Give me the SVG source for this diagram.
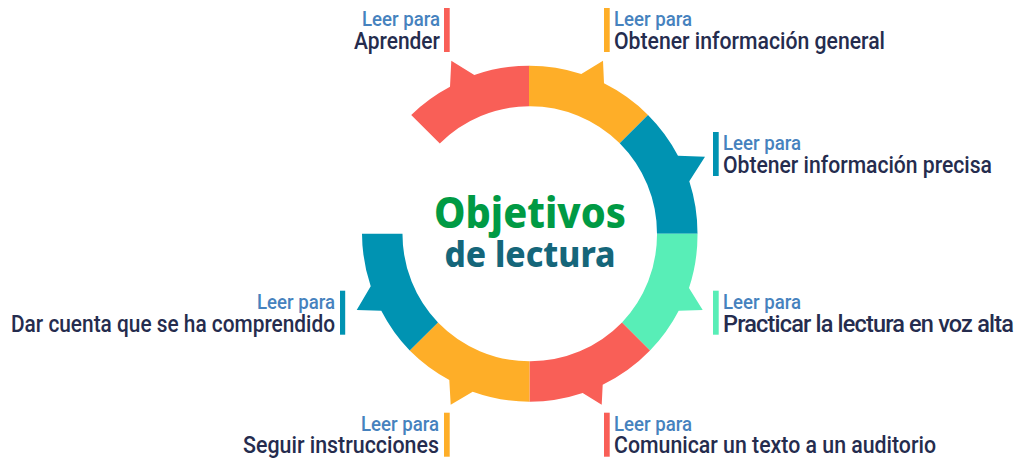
<svg xmlns="http://www.w3.org/2000/svg" width="1024" height="469" viewBox="0 0 1024 469">
<style>
.l{font-family:"Roboto","Liberation Sans",sans-serif;font-size:21px;font-weight:500;fill:#4682be}
.d{font-family:"Roboto","Liberation Sans",sans-serif;font-size:23px;font-weight:500;fill:#252c4e}
.e{text-anchor:end}
.red{fill:#f95f57}.ora{fill:#feae28}.tea{fill:#0093b2}.gre{fill:#58eeb7}
.t{font-family:"Noto Sans",sans-serif;font-weight:800;text-anchor:middle}
</style>
<rect width="1024" height="469" fill="#fff"/>
<g id="node-aprender">
<path class="red" d="M411.2 114.9A168 168 0 0 1 450 86.7L451.3 60.7L474.3 75A168 168 0 0 1 529.2 65.7V106.2A127.5 127.5 0 0 0 439.8 143.5Z"/>
<rect class="red" x="444" y="8" width="5.7" height="44"/>
<text class="l e" x="440" y="26" textLength="78" lengthAdjust="spacingAndGlyphs">Leer para</text>
<text class="d e" x="440" y="49" textLength="86" lengthAdjust="spacingAndGlyphs">Aprender</text>
</g>
<g id="node-general">
<path class="ora" d="M529 65.7A168 168 0 0 1 581.3 73.9L603 60.7L604 83.3A168 168 0 0 1 648 114.9L619.7 143.2A127.5 127.5 0 0 0 529 106.2Z"/>
<rect class="ora" x="604" y="8" width="5.7" height="44"/>
<text class="l" x="614" y="26" textLength="78" lengthAdjust="spacingAndGlyphs">Leer para</text>
<text class="d" x="614" y="49" textLength="271" lengthAdjust="spacingAndGlyphs">Obtener información general</text>
</g>
<g id="node-precisa">
<path class="tea" d="M648 114.9A168 168 0 0 1 678 155.7L705 156.7L689.3 181.3A168 168 0 0 1 697.5 233.7H657A127.5 127.5 0 0 0 619.7 143.2Z"/>
<rect class="tea" x="713" y="132" width="5.7" height="44"/>
<text class="l" x="723" y="150" textLength="78" lengthAdjust="spacingAndGlyphs">Leer para</text>
<text class="d" x="723" y="173" textLength="269" lengthAdjust="spacingAndGlyphs">Obtener información precisa</text>
</g>
<g id="node-voz-alta">
<path class="gre" d="M697.5 233.7A168 168 0 0 1 689 288L702.7 310L678.7 310.7A168 168 0 0 1 650 350.5L622 322.5A127.5 127.5 0 0 0 657 233.7Z"/>
<rect class="gre" x="713" y="290.7" width="5.7" height="44"/>
<text class="l" x="723" y="309" textLength="78" lengthAdjust="spacingAndGlyphs">Leer para</text>
<text class="d" x="723" y="332" letter-spacing="-0.8" textLength="290" lengthAdjust="spacingAndGlyphs">Practicar la lectura en voz alta</text>
</g>
<g id="node-auditorio">
<path class="red" d="M650 350.5A168 168 0 0 1 602.7 384.7L601.7 404.7L582.7 393A168 168 0 0 1 529.5 401.7V361.2A127.5 127.5 0 0 0 622 322.5Z"/>
<rect class="red" x="604" y="412.7" width="5.7" height="44"/>
<text class="l" x="614" y="431" textLength="78" lengthAdjust="spacingAndGlyphs">Leer para</text>
<text class="d" x="614" y="453" textLength="322" lengthAdjust="spacingAndGlyphs">Comunicar un texto a un auditorio</text>
</g>
<g id="node-instrucciones">
<path class="ora" d="M529.5 401.7A168 168 0 0 1 472.7 391.8L450.7 404.7L449.3 380A168 168 0 0 1 409.7 350.5L438 322.5A127.5 127.5 0 0 0 529.5 361.2Z"/>
<rect class="ora" x="444" y="412.7" width="5.7" height="44"/>
<text class="l e" x="439" y="431" textLength="78" lengthAdjust="spacingAndGlyphs">Leer para</text>
<text class="d e" x="439" y="453" textLength="196" lengthAdjust="spacingAndGlyphs">Seguir instrucciones</text>
</g>
<g id="node-comprendido">
<path class="tea" d="M409.7 350.5A168 168 0 0 1 381.3 310.7L356.7 310L370.7 286.3A168 168 0 0 1 362 233.7H402.5A127.5 127.5 0 0 0 438 322.5Z"/>
<rect class="tea" x="340" y="290.7" width="5.2" height="44"/>
<text class="l e" x="335" y="309" textLength="78" lengthAdjust="spacingAndGlyphs">Leer para</text>
<text class="d e" x="335" y="332" textLength="324" lengthAdjust="spacingAndGlyphs">Dar cuenta que se ha comprendido</text>
</g>
<g id="node-center">
<text class="t" x="530" y="228" font-size="43" fill="#009a44" textLength="192" lengthAdjust="spacingAndGlyphs">Objetivos</text>
<text class="t" x="530" y="267" font-size="36" fill="#15667a" textLength="171" lengthAdjust="spacingAndGlyphs">de lectura</text>
</g>
<g id="connectors"/>
</svg>
